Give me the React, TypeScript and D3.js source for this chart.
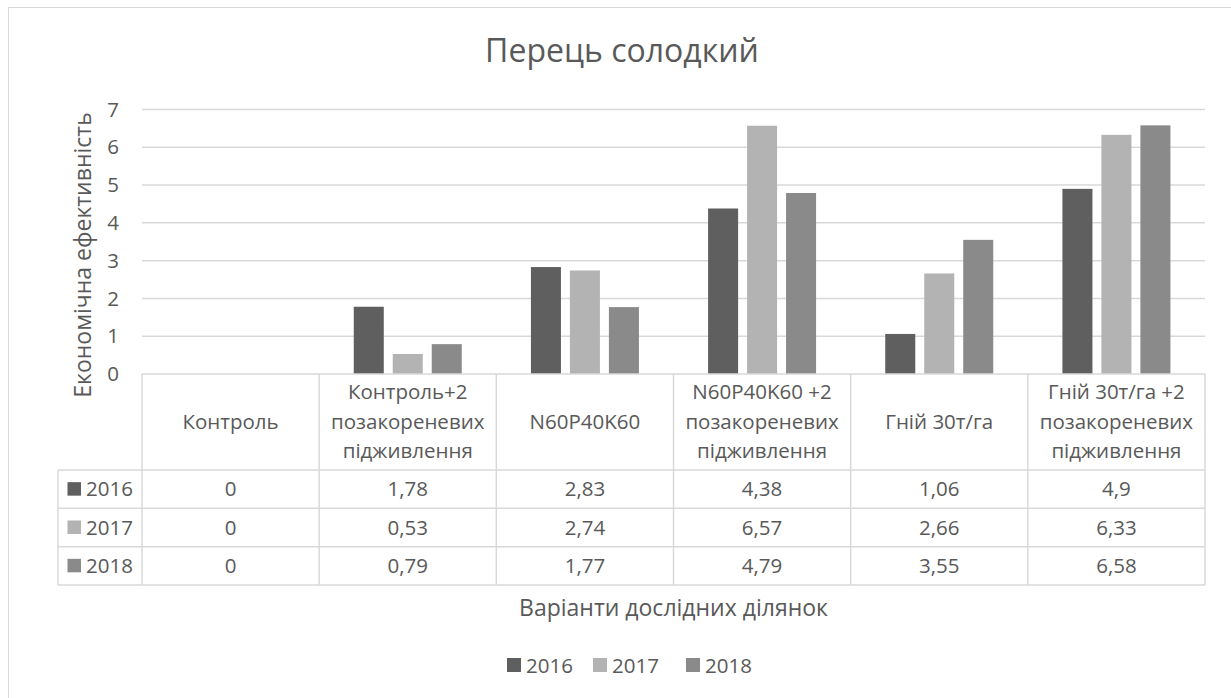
import React from 'react';
import * as d3 from 'd3';

const categories = [
  'Контроль',
  'Контроль+2\nпозакореневих\nпідживлення',
  'N60P40K60',
  'N60P40K60 +2\nпозакореневих\nпідживлення',
  'Гній 30т/га',
  'Гній 30т/га +2\nпозакореневих\nпідживлення',
];
const years = ['2016', '2017', '2018'];
const values2016 = [0, 1.78, 2.83, 4.38, 1.06, 4.9];
const values2017 = [0, 0.53, 2.74, 6.57, 2.66, 6.33];
const values2018 = [0, 0.79, 1.77, 4.79, 3.55, 6.58];
const yearColors = ['#5f5f5f', '#b3b3b3', '#8a8a8a'];

const series = [values2016, values2017, values2018];

const W = 1231;
const H = 698;
const font = '"Open Sans", "Noto Sans", sans-serif';
const textColor = '#595959';
const lineColor = '#d9d9d9';

const plot = { left: 142, right: 1205, top: 109.5, bottom: 374 };
const table = { legendLeft: 58, headerBottom: 470, rowH: 38.33 };
const fs = 20.5; // table / tick text size

const fmt = (v: number) => String(v).replace('.', ',');

export default function App() {
  const x = d3.scaleBand<string>().domain(categories).range([plot.left, plot.right]);
  const bw = x.bandwidth();
  const groupW = 108;
  const x1 = d3
    .scaleBand<string>()
    .domain(years)
    .range([(bw - groupW) / 2, (bw + groupW) / 2])
    .paddingInner(0.23);
  const y = d3.scaleLinear().domain([0, 7]).range([plot.bottom, plot.top]);
  const ticks = y.ticks(7);

  const tableBottom = table.headerBottom + table.rowH * years.length;

  // legend at the bottom
  const legendX = [507, 593, 686];

  return (
    <svg
      width={W}
      height={H}
      style={{ position: 'absolute', left: 0, top: 0, background: '#fff' }}
      fontFamily={font}
    >
      <rect x={8.5} y={7.5} width={W} height={H + 20} fill="#fff" stroke={lineColor} />

      <text x={622} y={62} textAnchor="middle" fontSize={32} fill={textColor}>
        Перець солодкий
      </text>

      {/* gridlines + y ticks */}
      {ticks.map((t) => (
        <g key={t}>
          {t > 0 && (
            <line x1={plot.left} x2={plot.right} y1={y(t)} y2={y(t)} stroke={lineColor} strokeWidth={1.5} />
          )}
          <text x={119} y={y(t) + 7.2} textAnchor="end" fontSize={fs} fill={textColor}>
            {t}
          </text>
        </g>
      ))}

      <text
        transform={`translate(91,255) rotate(-90)`}
        textAnchor="middle"
        fontSize={23}
        fill={textColor}
      >
        Економічна ефективність
      </text>

      {/* bars */}
      {series.map((vals, si) =>
        vals.map((v, ci) => (
          <rect
            key={`${si}-${ci}`}
            x={(x(categories[ci]) as number) + (x1(years[si]) as number)}
            y={y(v)}
            width={x1.bandwidth()}
            height={plot.bottom - y(v)}
            fill={yearColors[si]}
          />
        ))
      )}

      {/* data table */}
      <g stroke={lineColor} strokeWidth={1.5} fill="none">
        <line x1={plot.left} x2={plot.right} y1={plot.bottom} y2={plot.bottom} />
        {years.map((yr, i) => (
          <line
            key={yr}
            x1={table.legendLeft}
            x2={plot.right}
            y1={table.headerBottom + table.rowH * i}
            y2={table.headerBottom + table.rowH * i}
          />
        ))}
        <line x1={table.legendLeft} x2={plot.right} y1={tableBottom} y2={tableBottom} />
        <line x1={table.legendLeft} x2={table.legendLeft} y1={table.headerBottom} y2={tableBottom} />
        {categories.map((c) => (
          <line key={c} x1={x(c)} x2={x(c)} y1={plot.bottom} y2={tableBottom} />
        ))}
        <line x1={plot.right} x2={plot.right} y1={plot.bottom} y2={tableBottom} />
      </g>

      {categories.map((c) => {
        const lines = c.split('\n');
        const cx = (x(c) as number) + bw / 2;
        const mid = (plot.bottom + table.headerBottom) / 2;
        const lh = 29.5;
        return (
          <text key={c} textAnchor="middle" fontSize={fs} fill={textColor}>
            {lines.map((ln, li) => (
              <tspan key={li} x={cx} y={mid + (li - (lines.length - 1) / 2) * lh + 6.5}>
                {ln}
              </tspan>
            ))}
          </text>
        );
      })}

      {years.map((yr, si) => {
        const rowMid = table.headerBottom + table.rowH * (si + 0.5);
        return (
          <g key={yr}>
            <rect x={67.5} y={rowMid - 7} width={13.5} height={13.5} fill={yearColors[si]} />
            <text x={86} y={rowMid + 7.2} fontSize={fs} fill={textColor}>
              {yr}
            </text>
            {series[si].map((v, ci) => (
              <text
                key={ci}
                x={(x(categories[ci]) as number) + bw / 2}
                y={rowMid + 7.2}
                textAnchor="middle"
                fontSize={fs}
                fill={textColor}
              >
                {fmt(v)}
              </text>
            ))}
          </g>
        );
      })}

      <text x={(plot.left + plot.right) / 2} y={616} textAnchor="middle" fontSize={23} fill={textColor}>
        Варіанти дослідних ділянок
      </text>

      {years.map((yr, si) => (
        <g key={yr}>
          <rect x={legendX[si]} y={658} width={14} height={14} fill={yearColors[si]} />
          <text x={legendX[si] + 19} y={672.5} fontSize={fs} fill={textColor}>
            {yr}
          </text>
        </g>
      ))}
    </svg>
  );
}
